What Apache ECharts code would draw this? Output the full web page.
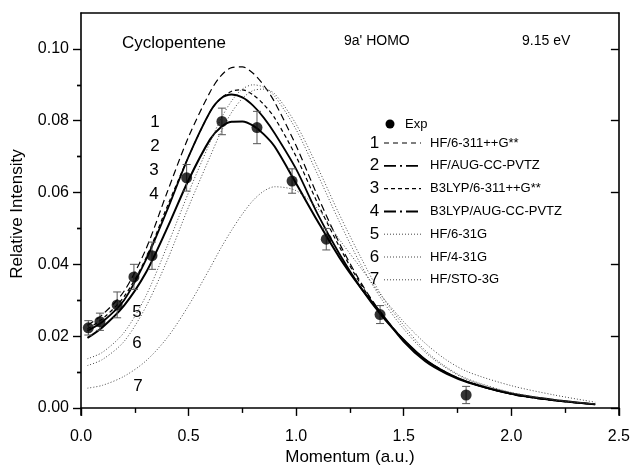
<!DOCTYPE html>
<html>
<head>
<meta charset="utf-8">
<title>Cyclopentene 9a' HOMO</title>
<script src="https://cdn.jsdelivr.net/npm/echarts@6/dist/echarts.min.js"></script>
<style>
	html, body { margin: 0; padding: 0; background: #fff; }
	#chart { width: 633px; height: 471px; }
</style>
</head>
<body>
<div id="chart"></div>
<script>
	// 动量网格 (a.u.)
	var momentum = [0.03, 0.1, 0.2, 0.3, 0.4, 0.5, 0.6, 0.65, 0.7, 0.75, 0.8, 0.85, 0.9, 1.0, 1.1, 1.2, 1.3, 1.4, 1.5, 1.6, 1.7, 1.8, 2.0, 2.2, 2.39];
	// 理论曲线
	var hf6311 = [0.023, 0.026, 0.0325, 0.044, 0.060, 0.0755, 0.088, 0.0925, 0.0948, 0.0950, 0.0932, 0.0898, 0.0852, 0.073, 0.059, 0.046, 0.035, 0.026, 0.019, 0.0135, 0.0098, 0.0071, 0.0038, 0.002, 0.001];
	var hfAug = [0.0215, 0.024, 0.030, 0.041, 0.055, 0.070, 0.0825, 0.0862, 0.0873, 0.0865, 0.0842, 0.0808, 0.0765, 0.0665, 0.054, 0.043, 0.0335, 0.0255, 0.019, 0.0135, 0.0098, 0.0072, 0.0039, 0.0021, 0.001];
	var b3lyp6311 = [0.022, 0.0248, 0.031, 0.0415, 0.056, 0.070, 0.0825, 0.0862, 0.0882, 0.0886, 0.0872, 0.0845, 0.0808, 0.070, 0.057, 0.045, 0.0345, 0.026, 0.019, 0.0135, 0.0098, 0.0072, 0.0039, 0.0021, 0.001];
	var b3lypAug = [0.0195, 0.0225, 0.0285, 0.0375, 0.050, 0.0635, 0.0748, 0.0782, 0.0797, 0.0798, 0.0786, 0.0762, 0.0728, 0.0625, 0.052, 0.042, 0.0335, 0.026, 0.0185, 0.013, 0.0095, 0.0071, 0.004, 0.0022, 0.001];
	var hf631 = [0.0137, 0.0155, 0.021, 0.031, 0.045, 0.060, 0.074, 0.0805, 0.0855, 0.0888, 0.0900, 0.0893, 0.0868, 0.0775, 0.065, 0.052, 0.040, 0.030, 0.022, 0.0155, 0.011, 0.0078, 0.0042, 0.0022, 0.0011];
	var hf431 = [0.0118, 0.0135, 0.0185, 0.028, 0.041, 0.056, 0.070, 0.0768, 0.0823, 0.0862, 0.0884, 0.0888, 0.0875, 0.079, 0.067, 0.054, 0.042, 0.031, 0.023, 0.016, 0.0113, 0.008, 0.0043, 0.0023, 0.0011];
	var hfSto = [0.0055, 0.0063, 0.0088, 0.013, 0.0195, 0.0285, 0.039, 0.0445, 0.0495, 0.054, 0.0578, 0.0604, 0.0616, 0.0605, 0.0555, 0.047, 0.039, 0.031, 0.024, 0.018, 0.0133, 0.010, 0.0062, 0.0036, 0.0016];
	// 实验数据
	var expX = [0.034, 0.088, 0.168, 0.246, 0.33, 0.491, 0.655, 0.818, 0.981, 1.14, 1.39, 1.79];
	var expY = [0.0223, 0.0240, 0.0287, 0.0365, 0.0424, 0.0641, 0.0798, 0.0781, 0.0632, 0.047, 0.026, 0.0036];
	var expErr = [0.002, 0.0024, 0.0036, 0.0035, 0.0038, 0.0037, 0.0037, 0.0045, 0.0034, 0.003, 0.0025, 0.0024];
	// 刻度
	var yMajor = [0, 0.02, 0.04, 0.06, 0.08, 0.10];
	var yMinor = [0.01, 0.03, 0.05, 0.07, 0.09];
	var curveNames = ['HF/6-311++G**', 'HF/AUG-CC-PVTZ', 'B3LYP/6-311++G**', 'B3LYP/AUG-CC-PVTZ', 'HF/6-31G', 'HF/4-31G', 'HF/STO-3G'];
	var curveData = [hf6311, hfAug, b3lyp6311, b3lypAug, hf631, hf431, hfSto];

	// 线型: 图中 / 图例
	var dashes = [[7, 4], 'solid', [4, 3], 'solid', [1, 2], [1, 2], [1, 2]];
	var legendDash = [[5, 4], [12, 4, 2, 4], [4, 3], [12, 4, 2, 4], [1, 2], [1, 2], [1, 2]];
	var widths = [1.2, 1.8, 1.2, 2, 1, 1, 1];
	var colors = ['#000', '#000', '#000', '#000', '#444', '#444', '#444'];

	var chart = echarts.init(document.getElementById('chart'));

	function pairs(ys) {
		return momentum.map(function(x, i) { return [x, ys[i]]; });
	}

	var series = curveData.map(function(ys, i) {
		return {
			name: curveNames[i],
			type: 'line',
			data: pairs(ys),
			smooth: 0.3,
			showSymbol: false,
			symbol: 'none',
			silent: true,
			z: 2,
			lineStyle: { color: colors[i], width: widths[i], type: dashes[i] }
		};
	});

	// 误差棒
	series.push({
		type: 'custom',
		silent: true,
		z: 3,
		data: expX.map(function(x, i) { return [x, expY[i] - expErr[i], expY[i] + expErr[i]]; }),
		renderItem: function(params, api) {
			var lo = api.coord([api.value(0), api.value(1)]);
			var hi = api.coord([api.value(0), api.value(2)]);
			var w = 4;
			var st = { stroke: '#555', lineWidth: 1 };
			return {
				type: 'group',
				children: [
					{ type: 'line', shape: { x1: lo[0], y1: lo[1], x2: hi[0], y2: hi[1] }, style: st },
					{ type: 'line', shape: { x1: lo[0] - w, y1: lo[1], x2: lo[0] + w, y2: lo[1] }, style: st },
					{ type: 'line', shape: { x1: hi[0] - w, y1: hi[1], x2: hi[0] + w, y2: hi[1] }, style: st }
				]
			};
		}
	});
	series.push({
		name: 'Exp',
		type: 'scatter',
		data: expX.map(function(x, i) { return [x, expY[i]]; }),
		symbol: 'circle',
		symbolSize: 11,
		z: 4,
		itemStyle: { color: '#000' }
	});

	// 图例与文字
	var font = 'Liberation Sans, Arial, sans-serif';
	var graphics = [
		{ type: 'text', x: 122, y: 43, style: { text: 'Cyclopentene', font: '17px ' + font, fill: '#000', textVerticalAlign: 'middle' } },
		{ type: 'text', x: 344, y: 41, style: { text: "9a' HOMO", font: '14px ' + font, fill: '#000', textVerticalAlign: 'middle' } },
		{ type: 'text', x: 522, y: 41, style: { text: '9.15 eV', font: '14px ' + font, fill: '#000', textVerticalAlign: 'middle' } },
		{ type: 'circle', shape: { cx: 390, cy: 124, r: 4.5 }, style: { fill: '#000' } },
		{ type: 'text', x: 405, y: 124, style: { text: 'Exp', font: '13px ' + font, fill: '#000', textVerticalAlign: 'middle' } }
	];
	var labelPos = [[155, 122], [155, 146], [154, 170], [154, 194], [137, 312], [137, 343], [138, 386]];
	curveNames.forEach(function(name, i) {
		var y = 143 + i * 22.8;
		graphics.push({ type: 'text', x: 374.5, y: y, style: { text: String(i + 1), font: '17px ' + font, fill: '#000', textAlign: 'center', textVerticalAlign: 'middle' } });
		graphics.push({ type: 'line', shape: { x1: 384, y1: y, x2: 421, y2: y }, style: { stroke: colors[i], lineWidth: widths[i], lineDash: legendDash[i] } });
		graphics.push({ type: 'text', x: 430, y: y, style: { text: name, font: '13px ' + font, fill: '#000', textVerticalAlign: 'middle' } });
		graphics.push({ type: 'text', x: labelPos[i][0], y: labelPos[i][1], style: { text: String(i + 1), font: '17px ' + font, fill: '#000', textAlign: 'center', textVerticalAlign: 'middle' } });
	});

	var axisLine = { show: true, onZero: false, lineStyle: { color: '#000', width: 1.6 } };
	var tickLine = { color: '#000', width: 1.4 };

	chart.setOption({
		animation: false,
		grid: { left: 81, right: 11, top: 13, bottom: 48, containLabel: false },
		textStyle: { fontFamily: font },
		xAxis: [{
			type: 'value', min: 0, max: 2.5, interval: 0.5,
			axisLine: { show: true, onZero: true, lineStyle: { color: '#000', width: 1.6 } },
			axisTick: { show: true, length: 8, lineStyle: tickLine },
			minorTick: { show: true, splitNumber: 2, length: 5, lineStyle: tickLine },
			axisLabel: { color: '#000', fontSize: 16, margin: 13, formatter: function(v) { return v.toFixed(1); } },
			splitLine: { show: false },
			name: 'Momentum (a.u.)', nameLocation: 'middle', nameGap: 33,
			nameTextStyle: { color: '#000', fontSize: 17 }
		}, {
			type: 'value', min: 0, max: 2.5, position: 'top',
			axisLine: axisLine, axisTick: { show: false }, axisLabel: { show: false }, splitLine: { show: false }
		}],
		yAxis: [{
			type: 'value', min: -0.002, max: 0.11, position: 'left',
			axisLine: axisLine,
			axisTick: { show: true, length: 8, customValues: yMajor, lineStyle: tickLine },
			axisLabel: { color: '#000', fontSize: 16, margin: 12, customValues: yMajor, formatter: function(v) { return v.toFixed(2); } },
			splitLine: { show: false },
			name: 'Relative Intensity', nameLocation: 'middle', nameGap: 55,
			nameTextStyle: { color: '#000', fontSize: 17 }
		}, {
			type: 'value', min: -0.002, max: 0.11, position: 'left',
			axisLine: { show: false },
			axisTick: { show: true, length: 4, customValues: yMinor, lineStyle: tickLine },
			axisLabel: { show: false }, splitLine: { show: false }
		}, {
			type: 'value', min: -0.002, max: 0.11, position: 'right',
			axisLine: axisLine,
			axisTick: { show: true, inside: true, length: 8, customValues: yMajor, lineStyle: tickLine },
			axisLabel: { show: false }, splitLine: { show: false }
		}, {
			type: 'value', min: -0.002, max: 0.11, position: 'right',
			axisLine: { show: false },
			axisTick: { show: true, inside: true, length: 4, customValues: yMinor, lineStyle: tickLine },
			axisLabel: { show: false }, splitLine: { show: false }
		}],
		graphic: graphics,
		series: series
	});
</script>
</body>
</html>
